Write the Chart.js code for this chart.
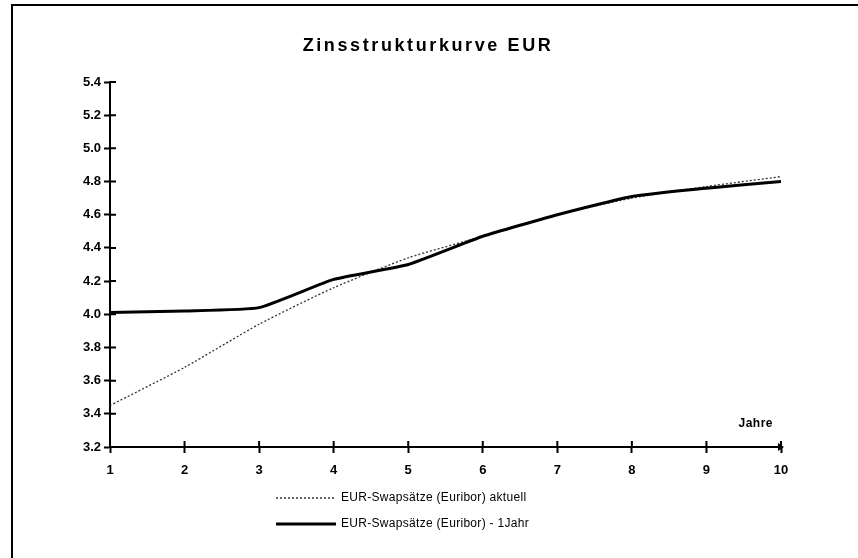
<!DOCTYPE html>
<html>
<head>
<meta charset="utf-8">
<script src="https://cdn.jsdelivr.net/npm/chart.js@4"></script>
<style>
  html, body { margin: 0; padding: 0; background: #fff; }
  #wrap { width: 858px; height: 558px; position: relative; }
</style>
</head>
<body>
<div id="wrap"><canvas id="chart" width="858" height="558"></canvas></div>
<script>
const years = [1, 2, 3, 4, 5, 6, 7, 8, 9, 10];
const swapAktuell = [3.45, 3.68, 3.94, 4.16, 4.34, 4.47, 4.60, 4.70, 4.77, 4.83];
const swapVorjahr = [4.01, 4.02, 4.04, 4.21, 4.30, 4.47, 4.60, 4.71, 4.76, 4.80];
const titleText = "Zinsstrukturkurve EUR";
const labelAktuell = "EUR-Swapsätze (Euribor) aktuell";
const labelVorjahr = "EUR-Swapsätze (Euribor) - 1Jahr";
const axisLabel = "Jahre";

const FONT = "'Liberation Sans', Arial, sans-serif";

// ticks that cross the axis, title, "Jahre", legend and frame
const extras = {
    id: "extras",
    afterDraw(chart) {
        const ctx = chart.ctx;
        const xs = chart.scales.x;
        const ys = chart.scales.y;
        const area = chart.chartArea;
        ctx.save();
        ctx.strokeStyle = "#000";
        ctx.lineWidth = 2;
        ctx.beginPath();
        xs.ticks.forEach(t => {
            const px = xs.getPixelForValue(t.value);
            ctx.moveTo(px, area.bottom - 6);
            ctx.lineTo(px, area.bottom);
        });
        ys.ticks.forEach(t => {
            const py = ys.getPixelForValue(t.value);
            ctx.moveTo(area.left, py);
            ctx.lineTo(area.left + 6, py);
        });
        ctx.stroke();

        // little arrow at the axis end
        const endX = xs.getPixelForValue(10);
        ctx.fillStyle = "#000";
        ctx.beginPath();
        ctx.moveTo(endX + 3, area.bottom);
        ctx.lineTo(endX - 3, area.bottom - 4);
        ctx.lineTo(endX - 3, area.bottom + 4);
        ctx.closePath();
        ctx.fill();

        // frame
        ctx.lineWidth = 2;
        ctx.beginPath();
        ctx.moveTo(12, 560);
        ctx.lineTo(12, 5);
        ctx.lineTo(860, 5);
        ctx.stroke();

        // title
        ctx.letterSpacing = "2.6px";
        ctx.font = "bold 18px " + FONT;
        ctx.textAlign = "center";
        ctx.textBaseline = "middle";
        ctx.fillText(titleText, 428, 46);

        // axis caption
        ctx.letterSpacing = "0.5px";
        ctx.font = "bold 12px " + FONT;
        ctx.textAlign = "right";
        ctx.fillText(axisLabel, endX - 8, area.bottom - 23);

        // legend
        ctx.letterSpacing = "0.3px";
        ctx.font = "12px " + FONT;
        ctx.textAlign = "left";
        const rows = [
            { label: labelAktuell, y: 498, width: 1.3, dash: [2, 2], color: "#333" },
            { label: labelVorjahr, y: 524, width: 3, dash: [], color: "#000" }
        ];
        rows.forEach(r => {
            ctx.strokeStyle = r.color;
            ctx.lineWidth = r.width;
            ctx.setLineDash(r.dash);
            ctx.beginPath();
            ctx.moveTo(276, r.y);
            ctx.lineTo(336, r.y);
            ctx.stroke();
            ctx.setLineDash([]);
            ctx.fillStyle = "#000";
            ctx.fillText(r.label, 341, r.y);
        });
        ctx.restore();
    }
};

const ctx = document.getElementById("chart").getContext("2d");

const chart = new Chart(ctx, {
    type: "line",
    data: {
        datasets: [
            {
                label: labelAktuell,
                data: years.map((y, i) => ({ x: y, y: swapAktuell[i] })),
                borderColor: "#333",
                borderWidth: 1.3,
                borderDash: [2, 2],
                pointRadius: 0,
                tension: 0.2,
                order: 1
            },
            {
                label: labelVorjahr,
                data: years.map((y, i) => ({ x: y, y: swapVorjahr[i] })),
                borderColor: "#000",
                borderWidth: 3,
                pointRadius: 0,
                tension: 0.15,
                order: 0
            }
        ]
    },
    options: {
        responsive: false,
        animation: false,
        layout: {
            padding: { left: 40, right: 77, top: 82, bottom: 0 }
        },
        scales: {
            x: {
                type: "linear",
                min: 1,
                max: 10,
                afterFit: s => { s.height = 111; },
                ticks: {
                    stepSize: 1,
                    color: "#000",
                    padding: 10,
                    font: { family: FONT, size: 13, weight: "bold" }
                },
                grid: {
                    drawOnChartArea: false,
                    tickLength: 6,
                    tickWidth: 2,
                    tickColor: "#000"
                },
                border: { color: "#000", width: 2 }
            },
            y: {
                min: 3.2,
                max: 5.4,
                afterFit: s => { s.width = 70; },
                ticks: {
                    stepSize: 0.2,
                    color: "#000",
                    padding: 3,
                    font: { family: FONT, size: 13, weight: "bold" },
                    callback: v => v.toFixed(1)
                },
                grid: {
                    drawOnChartArea: false,
                    tickLength: 6,
                    tickWidth: 2,
                    tickColor: "#000"
                },
                border: { color: "#000", width: 2 }
            }
        },
        plugins: {
            legend: { display: false },
            title: { display: false },
            tooltip: { enabled: false }
        }
    },
    plugins: [extras]
});
</script>
</body>
</html>
